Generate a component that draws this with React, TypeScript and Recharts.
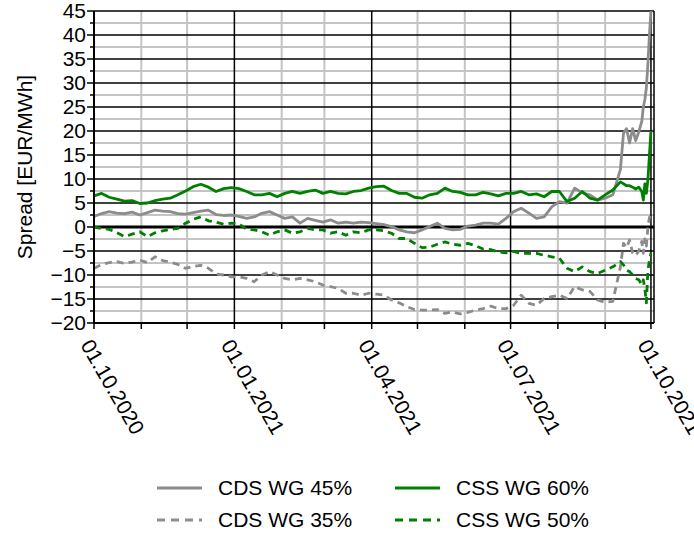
import React from 'react';
import { LineChart, Line, XAxis, YAxis, CartesianGrid } from 'recharts';

const FONT = '"Liberation Sans", Arial, sans-serif';
const GRAY = '#8c8c8c';
const GREEN = '#008000';

// days since 01.10.2020
const days = [
  0, 5, 10, 15, 20, 25, 30, 35, 40, 45, 50, 55, 60, 65, 70, 75, 80, 85, 90, 95,
  100, 105, 110, 115, 120, 125, 130, 135, 140, 145, 150, 155, 160, 165, 170, 175,
  180, 185, 190, 195, 200, 205, 210, 215, 220, 225, 230, 235, 240, 245, 250, 255,
  260, 265, 270, 275, 280, 285, 290, 295, 300, 305, 310, 315, 320, 325, 330, 335,
  340, 345, 347, 349, 351, 353, 355, 357, 359, 360, 361, 362, 363, 364, 365,
];

const cds45 = [
  2.2, 2.8, 3.2, 2.9, 2.8, 3.1, 2.5, 3.0, 3.5, 3.3,
  3.2, 2.8, 2.7, 3.0, 3.3, 3.5, 2.6, 2.4, 2.5, 2.2,
  1.8, 2.1, 2.85, 3.2, 2.5, 1.8, 2.1, 0.8, 1.8, 1.4,
  1.0, 1.5, 0.8, 1.0, 0.8, 1.0, 0.9, 0.7, 0.5, 0.1,
  -0.6, -1.0, -1.2, -0.6, 0.1, 0.8, -0.3, -0.6, -0.5, 0.2,
  0.4, 0.8, 0.8, 0.6, 1.8, 3.2, 3.9, 2.9, 1.8, 2.1,
  4.2, 5.3, 5.0, 8.1, 7.1, 6.7, 5.6, 6.0, 6.7, 12.0,
  19.5, 20.5, 17.5, 20.5, 18.0, 19.8, 22, 25, 26.5, 29, 34, 40, 45,
];

const cds35 = [
  -8.6, -7.8, -7.4, -7.2, -7.6, -7.3, -6.9, -7.4, -6.2, -7.0,
  -7.3, -7.8, -8.6, -8.2, -8.0, -8.6, -9.8, -10.0, -10.4, -10.4,
  -10.7, -11.4, -10.0, -9.3, -10.0, -10.7, -11.0, -10.7, -11.0, -11.4,
  -12.1, -12.4, -12.8, -13.8, -13.8, -14.2, -13.8, -14.0, -14.2, -15.2,
  -15.8, -16.6, -17.2, -17.3, -17.3, -17.2, -18.0, -17.7, -18.1, -17.8,
  -17.3, -17.0, -16.5, -17.0, -17.0, -16.3, -14.2, -15.9, -16.3, -14.9,
  -14.5, -14.2, -14.9, -12.4, -13.1, -13.4, -15.2, -15.7, -15.5, -8.3,
  -3.4, -4.3, -2.7, -5.4, -6.0, -5.0, -3.0, -5.5, -2.5, -4.0, 0.0, 2.0, 2.5,
];

const css60 = [
  6.5, 7.0, 6.2, 5.8, 5.4, 5.5, 4.9, 5.0, 5.5, 5.8,
  6.0, 6.7, 7.5, 8.4, 8.9, 8.3, 7.4, 8.0, 8.2, 8.0,
  7.4, 6.7, 6.7, 7.0, 6.3, 7.0, 7.4, 7.0, 7.4, 7.7,
  7.0, 7.4, 7.0, 6.9, 7.4, 7.6, 8.1, 8.4, 8.5, 7.6,
  7.0, 7.0, 6.2, 6.0, 6.7, 7.0, 8.1, 7.4, 7.2, 6.7,
  6.7, 7.2, 6.9, 6.5, 7.0, 7.0, 7.4, 6.7, 6.9, 6.3,
  7.4, 7.4, 5.3, 6.0, 7.4, 6.0, 5.6, 6.7, 7.7, 9.4,
  9.0, 8.6, 8.6, 8.3, 7.9, 8.3, 7.4, 5.6, 9.0, 7.0, 9.8, 15, 20,
];

const css50 = [
  0.0, -0.3, -0.5, -1.2, -2.0, -1.5, -1.0, -2.0, -1.2, -0.8,
  -0.5, -0.3, 0.8, 1.6, 2.1, 1.3, 1.0, 0.6, 0.8, 0.7,
  -0.5, -0.6, -1.0, -1.7, -1.0, -0.6, -1.3, -1.0, -0.3, -0.6,
  -0.6, -1.3, -1.0, -1.7, -1.0, -1.2, -0.6, -0.6, -0.8, -1.3,
  -2.4, -2.4, -3.4, -4.3, -4.2, -3.6, -3.1, -3.6, -3.8, -3.4,
  -3.9, -4.6, -4.7, -5.2, -5.4, -5.1, -5.5, -5.5, -5.5, -5.9,
  -6.2, -6.5, -8.6, -9.3, -8.3, -9.3, -9.7, -9.0, -8.3, -7.2,
  -7.9, -9.0, -9.3, -10.0, -10.7, -11.0, -12.0, -11.0, -12.8, -15.8, -9.0, -7.0, -5.5,
];

// month starts (days since 01.10.2020)
const monthTicks = [0, 31, 61, 92, 123, 151, 182, 212, 243, 273, 304, 335, 365];
const quarterTicks = [0, 92, 182, 273, 365];
const minorMonths = [31, 61, 123, 151, 212, 243, 304, 335];
const quarterLabels: Record<number, string> = {
  0: '01.10.2020',
  92: '01.01.2021',
  182: '01.04.2021',
  273: '01.07.2021',
  365: '01.10.2021',
};

const yMajor = [-20, -15, -10, -5, 0, 5, 10, 15, 20, 25, 30, 35, 40, 45];
const yMinor = [-17.5, -12.5, -7.5, -2.5, 2.5, 7.5, 12.5, 17.5, 22.5, 27.5, 32.5, 37.5, 42.5];
const yTicks = [
  -20, -17.5, -15, -12.5, -10, -7.5, -5, -2.5, 0, 2.5, 5, 7.5, 10, 12.5, 15,
  17.5, 20, 22.5, 25, 27.5, 30, 32.5, 35, 37.5, 40, 42.5, 45,
];

const series = [
  { key: 'cds45', name: 'CDS WG 45%', color: GRAY, dash: undefined },
  { key: 'cds35', name: 'CDS WG 35%', color: GRAY, dash: '7 5' },
  { key: 'css60', name: 'CSS WG 60%', color: GREEN, dash: undefined },
  { key: 'css50', name: 'CSS WG 50%', color: GREEN, dash: '7 5' },
];

const data = days.map((d, i) => ({
  day: d,
  cds45: cds45[i],
  cds35: cds35[i],
  css60: css60[i],
  css50: css50[i],
}));

const fmt = (v: number) => (v < 0 ? `\u2212${Math.abs(v)}` : String(v));

const XTick = ({ x, y, payload }: any) => {
  const label = quarterLabels[payload.value];
  const tx = x - 14;
  const ty = y + 22;
  return (
    <g>
      <line x1={x} x2={x} y1={y} y2={y + 6} stroke="#000" strokeWidth={1.5} />
      {label && (
        <text
          x={tx}
          y={ty}
          transform={`rotate(60 ${tx} ${ty})`}
          fontSize={21}
          fontFamily={FONT}
          fill="#000"
          textAnchor="start"
        >
          {label}
        </text>
      )}
    </g>
  );
};

const YTick = ({ x, y, payload }: any) => {
  const v = payload.value as number;
  const major = v % 5 === 0;
  return (
    <g>
      <line x1={x - (major ? 7 : 4)} x2={x} y1={y} y2={y} stroke="#000" strokeWidth={1.5} />
      {major && (
        <text x={x - 8} y={y} dy="0.35em" textAnchor="end" fontSize={21} fontFamily={FONT} fill="#000">
          {fmt(v)}
        </text>
      )}
    </g>
  );
};

const YLabel = ({ viewBox }: any) => {
  const cy = viewBox.y + viewBox.height / 2;
  return (
    <text
      x={25}
      y={cy}
      transform={`rotate(-90 25 ${cy})`}
      textAnchor="middle"
      dy="0.35em"
      fontSize={21}
      fontFamily={FONT}
      fill="#000"
    >
      Spread [EUR/MWh]
    </text>
  );
};

const LegendBox = () => {
  const rows = [
    [series[0], series[2]],
    [series[1], series[3]],
  ];
  return (
    <svg width={694} height={70} style={{ position: 'absolute', left: 0, top: 465 }}>
      {rows.map((row, r) =>
        row.map((s, c) => {
          const x0 = c === 0 ? 157 : 395;
          const y0 = 23 + r * 32;
          return (
            <g key={s.key}>
              <line x1={x0} x2={x0 + 45} y1={y0} y2={y0} stroke={s.color} strokeWidth={2.8} strokeDasharray={s.dash ? '8 6' : undefined} />
              <text x={x0 + 61} y={y0} dy="0.35em" fontSize={21} fontFamily={FONT} fill="#000">
                {s.name}
              </text>
            </g>
          );
        })
      )}
    </svg>
  );
};

export default function App() {
  return (
    <div style={{ position: 'absolute', left: 0, top: 0, width: 694, height: 533, background: '#fff' }}>
      <LineChart width={694} height={533} data={data} margin={{ top: 11, right: 40, bottom: 0, left: 0 }}>
        <CartesianGrid
          horizontalValues={yMinor}
          verticalValues={minorMonths}
          stroke="#c4c4c4"
          strokeWidth={2}
        />
        <CartesianGrid
          horizontalValues={yMajor}
          verticalValues={[...quarterTicks, 367]}
          stroke="#000"
          strokeWidth={1.5}
        />
        <CartesianGrid horizontalValues={[0]} vertical={false} stroke="#000" strokeWidth={3} />
        <XAxis
          dataKey="day"
          type="number"
          domain={[0, 367]}
          ticks={monthTicks}
          interval={0}
          height={210}
          tickSize={0}
          tickMargin={0}
          tickLine={false}
          axisLine={{ stroke: '#000', strokeWidth: 2 }}
          tick={<XTick />}
        />
        <YAxis
          type="number"
          domain={[-20, 45]}
          ticks={yTicks}
          interval={0}
          width={94}
          tickSize={0}
          tickMargin={0}
          tickLine={false}
          axisLine={{ stroke: '#000', strokeWidth: 2 }}
          tick={<YTick />}
          label={<YLabel />}
        />
        {series.map((s) => (
          <Line
            key={s.key}
            type="linear"
            dataKey={s.key}
            name={s.name}
            stroke={s.color}
            strokeWidth={2.8}
            strokeDasharray={s.dash}
            strokeLinejoin="round"
            dot={false}
            activeDot={false}
            isAnimationActive={false}
          />
        ))}
      </LineChart>
      <LegendBox />
    </div>
  );
}
